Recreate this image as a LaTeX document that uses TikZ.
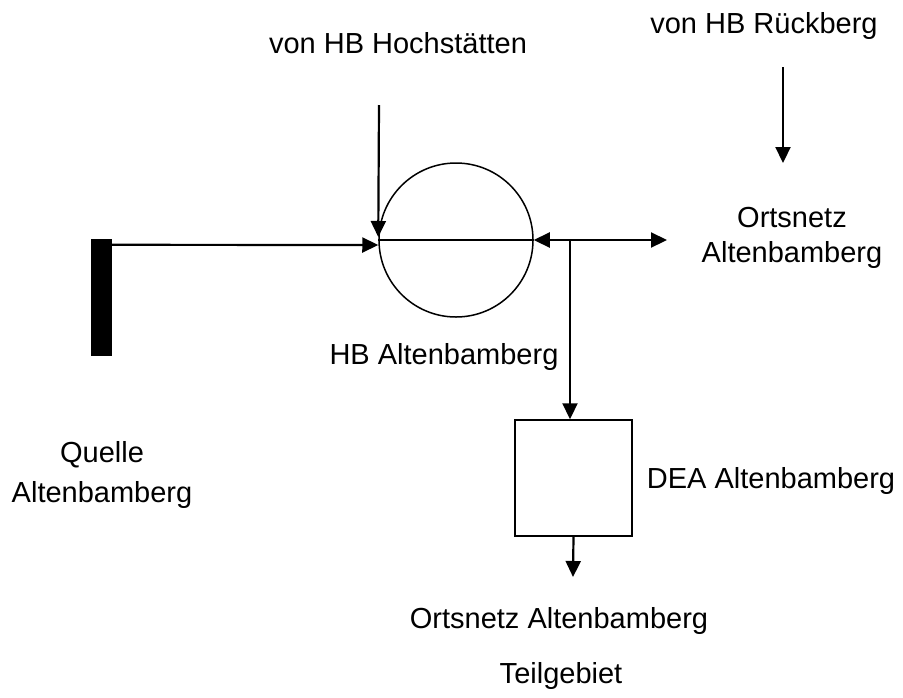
\documentclass[tikz,border=0pt]{standalone}
\usepackage{fontspec}
\setmainfont{Liberation Sans}
\usetikzlibrary{arrows.meta}
\tikzstyle{lbl} = [inner sep=0pt, anchor=base, align=center, font={\fontsize{29}{35}\selectfont}]
\tikzstyle{flow} = [line width=2.2pt, -{Triangle[length=16pt,width=15pt]}]
\tikzstyle{both} = [line width=2.2pt, {Triangle[length=16pt,width=15pt]}-{Triangle[length=16pt,width=15pt]}]
\tikzstyle{tank} = [draw=black, circle, line width=1.5pt, minimum size=154pt, inner sep=0pt]
\tikzstyle{plant} = [draw=black, rectangle, line width=1.5pt, minimum width=117pt, minimum height=116pt, inner sep=0pt]
\tikzstyle{source} = [fill=black, rectangle, minimum width=21pt, minimum height=117pt, inner sep=0pt]

\begin{document}
\begin{tikzpicture}[x=1pt,y=-1pt]
  \useasboundingbox (0,0) rectangle (903,697);
  \node[source](quelle) at (101.5,297.5){};
  \node[tank](hb) at (456,240){};
  \node[plant](dea) at (573.5,478){};
  \coordinate (hoch) at (379,105);
  \coordinate (rueck) at (783,67);
  \coordinate (rueckend) at (783,163);
  \coordinate (netz) at (667,240);
  \coordinate (branch) at (570,240);
  \coordinate (teil) at (573,577);
  \node[lbl](hochlbl) at (398,53){von HB Hochstätten};
  \node[lbl](ruecklbl) at (764,33){von HB Rückberg};
  \node[lbl](netzlbl) at (792,262){Ortsnetz\\Altenbamberg};
  \node[lbl](hblbl) at (444,364){HB Altenbamberg};
  \node[lbl](quellelbl) at (102,502){Quelle\\[5pt]Altenbamberg};
  \node[lbl](dealbl) at (771,488){DEA Altenbamberg};
  \node[lbl](teillbl) at (559,628){Ortsnetz Altenbamberg};
  \node[lbl](teil2lbl) at (561,683){Teilgebiet};
  \draw[line width=1.5pt](hb.west)--(hb.east);
  \draw[flow]([yshift=-6pt]quelle.north east)--([yshift=-5pt]hb.west);
  \draw[flow](hoch)--([yshift=3pt]hb.west);
  \draw[flow](rueck)--(rueckend);
  \draw[both](hb.east)--(netz);
  \draw[flow](branch)--(branch |- dea.north);
  \draw[flow](dea.south)--(teil);
\end{tikzpicture}
\end{document}
